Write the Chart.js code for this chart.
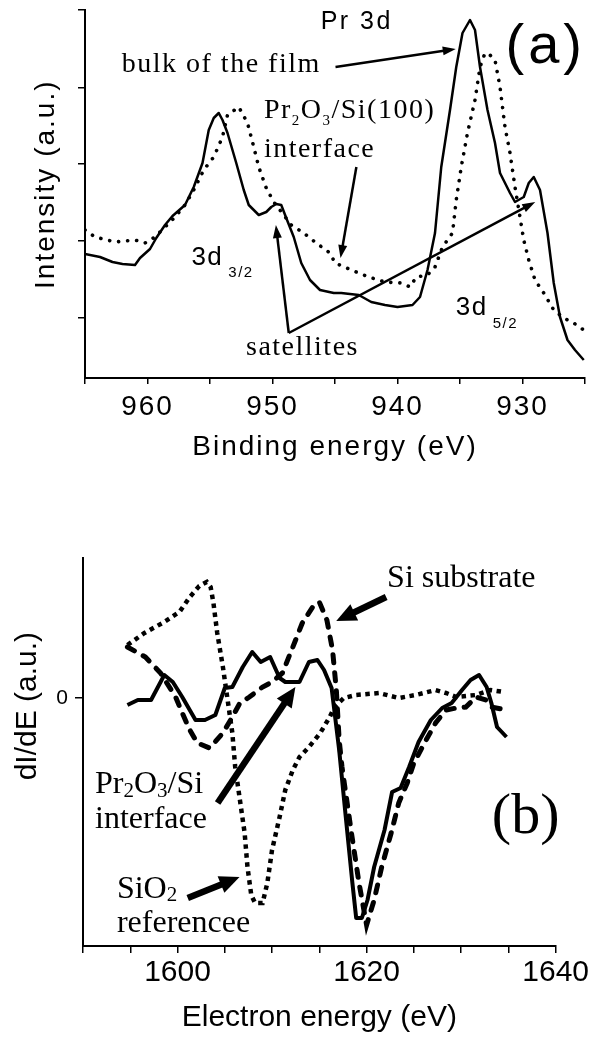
<!DOCTYPE html>
<html>
<head>
<meta charset="utf-8">
<script src="https://cdn.jsdelivr.net/npm/chart.js@4/dist/chart.umd.min.js"></script>
<style>
  html, body { margin: 0; padding: 0; background: #fff; }
  #wrap { position: relative; width: 591px; height: 1037px; overflow: hidden; background: #fff; }
  #ca { position: absolute; left: 0; top: 0; }
  #cb { position: absolute; left: 0; top: 500px; }
</style>
</head>
<body>
<div id="wrap">
  <canvas id="ca" width="591" height="490"></canvas>
  <canvas id="cb" width="591" height="537"></canvas>
</div>
<script>
// ---------------- Panel (a): Pr 3d XPS ----------------
const bulkEnergyA = [965.0, 963.8, 962.8, 962.0, 961.0, 960.6, 959.8, 959.3, 958.6, 958.0, 957.0, 956.3, 955.6, 955.1, 954.7, 954.3, 954.0, 953.6, 952.9, 952.3, 951.9, 951.1, 950.5, 950.1, 949.7, 949.3, 948.9, 948.3, 947.7, 947.0, 946.2, 945.1, 944.5, 943.1, 942.1, 941.0, 940.0, 938.8, 938.2, 937.6, 937.0, 936.5, 935.8, 935.3, 934.8, 934.2, 933.8, 933.4, 932.8, 932.2, 931.8, 931.0, 930.6, 929.9, 929.5, 929.1, 928.6, 928.0, 927.5, 927.0, 926.4, 925.8, 925.1];
const bulkIntensityA = [124, 121, 116, 114, 113, 120, 129, 140, 153, 162, 173, 191, 215, 248, 260, 265, 258, 245, 215, 188, 173, 163, 166, 171, 174, 173, 160, 141, 115, 98, 88, 85, 85, 83, 76, 73, 71, 73, 81, 108, 145, 211, 268, 311, 345, 358, 348, 311, 268, 235, 205, 185, 176, 181, 195, 201, 188, 145, 95, 61, 38, 28, 18];

const ifaceEnergyA = [965.0, 964.2, 962.6, 961.0, 960.2, 959.4, 958.6, 957.8, 957.0, 956.3, 955.5, 954.7, 954.0, 953.6, 952.7, 952.0, 951.5, 951.1, 950.5, 949.9, 949.1, 948.5, 947.5, 946.5, 945.4, 945.0, 943.7, 942.3, 941.0, 939.7, 939.0, 938.5, 937.6, 937.0, 936.4, 935.6, 935.3, 934.9, 934.4, 933.8, 933.4, 933.0, 932.6, 932.2, 931.8, 931.4, 931.0, 930.6, 930.2, 929.9, 929.5, 929.0, 928.3, 927.5, 926.7, 925.9, 925.1];
const ifaceIntensityA = [148, 141, 136, 138, 135, 141, 151, 161, 173, 188, 208, 221, 241, 263, 271, 255, 231, 211, 190, 176, 163, 153, 145, 135, 125, 115, 108, 101, 96, 95, 91, 101, 103, 111, 131, 145, 178, 211, 245, 278, 311, 325, 323, 318, 291, 251, 225, 191, 161, 138, 118, 98, 85, 68, 60, 55, 48];

const xRangeA = [925, 965];
const yRangeA = [0, 368];
const yTickValuesA = [60, 137, 214, 290, 368];

// ---------------- Panel (b): Auger derivative spectra ----------------
const refEnergyB = [1594.7, 1596.5, 1598.6, 1600.2, 1601.3, 1602.3, 1603.1, 1603.5, 1603.8, 1604.2, 1604.8, 1605.3, 1605.8, 1606.1, 1606.6, 1607.1, 1607.4, 1607.8, 1608.2, 1609.0, 1609.5, 1610.0, 1610.8, 1611.4, 1612.2, 1612.9, 1613.9, 1615.1, 1616.1, 1616.6, 1617.6, 1618.9, 1621.3, 1623.4, 1625.2, 1627.3, 1628.4, 1629.5, 1631.6, 1633.1, 1634.5];
const refValueB = [5.3, 6.5, 7.6, 8.6, 10.1, 11.2, 11.6, 11.1, 9.5, 6.5, 3.1, -0.2, -3.5, -6.9, -10.2, -13.5, -16.9, -19.7, -20.5, -20.5, -18.5, -15.2, -11.9, -9.2, -7.2, -5.9, -4.9, -3.5, -1.9, -0.9, 0.0, 0.3, 0.5, 0.0, 0.3, 0.8, 0.5, 0.1, 0.3, 0.8, 0.6];

const subEnergyB = [1594.7, 1596.6, 1598.2, 1599.8, 1600.5, 1601.3, 1602.1, 1603.4, 1604.8, 1605.8, 1606.6, 1607.6, 1609.0, 1610.0, 1611.1, 1612.2, 1613.2, 1614.3, 1615.0, 1615.8, 1616.4, 1616.8, 1617.1, 1617.4, 1618.4, 1619.2, 1620.0, 1620.8, 1621.6, 1622.6, 1623.4, 1624.3, 1625.0, 1626.3, 1627.3, 1628.4, 1629.5, 1630.5, 1631.6, 1632.6, 1633.2, 1634.8];
const subValueB = [5.1, 4.1, 2.5, 0.1, -1.5, -3.2, -4.5, -5.0, -3.5, -1.9, -0.5, 0.1, 1.1, 1.6, 2.5, 5.1, 7.5, 9.1, 9.6, 7.8, 4.8, 0.8, -4.2, -6.9, -13.5, -18.5, -22.7, -20.2, -16.9, -13.5, -10.5, -8.5, -6.5, -4.2, -2.5, -1.2, -1.0, -0.9, 0.1, -0.2, -0.9, -1.2];

const ifaceEnergyB = [1594.7, 1595.8, 1597.2, 1598.6, 1599.5, 1600.5, 1601.9, 1602.9, 1604.0, 1605.0, 1605.8, 1606.9, 1607.9, 1608.8, 1609.8, 1610.8, 1611.4, 1612.9, 1613.9, 1614.8, 1615.5, 1616.3, 1617.1, 1617.8, 1618.5, 1618.9, 1619.5, 1620.1, 1620.8, 1621.9, 1622.7, 1623.6, 1624.5, 1625.5, 1626.8, 1628.0, 1629.0, 1630.1, 1631.0, 1631.9, 1632.7, 1633.2, 1633.8, 1634.3, 1634.8];
const ifaceValueB = [-0.7, -0.2, -0.2, 2.3, 1.6, 0.1, -2.2, -2.2, -1.7, 1.0, 1.1, 3.1, 4.6, 3.6, 4.1, 2.0, 1.6, 1.6, 3.6, 3.8, 2.8, 1.0, -5.2, -11.9, -18.5, -22.0, -22.0, -20.2, -16.9, -13.2, -9.4, -9.0, -6.9, -4.4, -2.2, -1.0, -0.5, 0.8, 1.8, 2.3, 1.1, -0.5, -2.9, -3.4, -3.9];

const xRangeB = [1590, 1640];
const yRangeB = [-24.8, 14.0];
const yTickValuesB = [0];

// ---------------- Fonts & helpers ----------------
const SANS = '"Liberation Sans", Arial, Helvetica, sans-serif';
const SERIF = '"Liberation Serif", "Times New Roman", Times, serif';

function pairs(xs, ys) { return xs.map((x, i) => ({ x: x, y: ys[i] })); }

function drawArrow(ctx, x1, y1, x2, y2, st) {
  const ang = Math.atan2(y2 - y1, x2 - x1);
  const c = Math.cos(ang), s = Math.sin(ang);
  const bx = x2 - st.head * c, by = y2 - st.head * s;
  ctx.save();
  ctx.strokeStyle = '#000';
  ctx.fillStyle = '#000';
  ctx.lineWidth = st.width;
  ctx.lineCap = 'butt';
  ctx.beginPath();
  ctx.moveTo(x1, y1);
  ctx.lineTo(bx + c, by + s);
  ctx.stroke();
  ctx.beginPath();
  ctx.moveTo(x2, y2);
  ctx.lineTo(bx + (st.headW / 2) * s, by - (st.headW / 2) * c);
  ctx.lineTo(bx - (st.headW / 2) * s, by + (st.headW / 2) * c);
  ctx.closePath();
  ctx.fill();
  ctx.restore();
}

function drawRich(ctx, n, px, py) {
  let cx = px;
  for (const seg of n.segs) {
    const t = seg[0], sc = seg[1] || 1, dy = seg[2] || 0, dx = seg[3] || 0;
    ctx.font = Math.round(n.size * sc) + 'px ' + n.family;
    ctx.letterSpacing = (n.spacing || 0) + 'px';
    cx += dx;
    ctx.fillText(t, cx, py + dy);
    cx += ctx.measureText(t).width;
  }
}

function notesPlugin(notes, arrows, arrowStyle, spacing) {
  return {
    id: 'notes',
    beforeLayout(chart) { chart.ctx.letterSpacing = spacing + 'px'; },
    beforeDraw(chart) { chart.ctx.letterSpacing = spacing + 'px'; },
    afterDraw(chart) {
      const ctx = chart.ctx, xs = chart.scales.x, ys = chart.scales.y;
      ctx.save();
      ctx.fillStyle = '#000';
      ctx.textAlign = 'left';
      ctx.textBaseline = 'alphabetic';
      for (const a of arrows) {
        drawArrow(ctx, xs.getPixelForValue(a.x1), ys.getPixelForValue(a.y1),
                       xs.getPixelForValue(a.x2), ys.getPixelForValue(a.y2), arrowStyle);
      }
      for (const n of notes) drawRich(ctx, n, xs.getPixelForValue(n.x), ys.getPixelForValue(n.y));
      ctx.restore();
      ctx.letterSpacing = '0px';
    }
  };
}

// ---------------- Annotations (data coordinates) ----------------
const notesA = [
  { x: 946.15, y: 349, family: SANS, size: 25, spacing: 2.5, segs: [['Pr 3d']] },
  { x: 931.36, y: 315, family: SANS, size: 56, spacing: 4, segs: [['(a)']] },
  { x: 962.06, y: 306, family: SERIF, size: 28, spacing: 1.5, segs: [['bulk of the film']] },
  { x: 950.69, y: 260, family: SERIF, size: 28, spacing: 1.5, segs: [['Pr'], ['2', 0.52, 7], ['O'], ['3', 0.52, 7], ['/Si(100)']] },
  { x: 950.69, y: 221, family: SERIF, size: 28, spacing: 1.5, segs: [['interface']] },
  { x: 956.49, y: 113, family: SANS, size: 26, spacing: 1.5, segs: [['3d'], ['3/2', 0.58, 12, 5]] },
  { x: 935.34, y: 63, family: SANS, size: 26, spacing: 1.5, segs: [['3d'], ['5/2', 0.58, 13, 5]] },
  { x: 952.12, y: 23, family: SERIF, size: 28, spacing: 1.5, segs: [['satellites']] }
];
const arrowsA = [
  { x1: 944.96, y1: 311, x2: 935.34, y2: 329 },
  { x1: 943.29, y1: 211, x2: 944.56, y2: 120 },
  { x1: 948.70, y1: 45, x2: 949.73, y2: 153 },
  { x1: 948.70, y1: 45, x2: 928.98, y2: 176 }
];
const notesB = [
  { x: 1622.17, y: 11.1, family: SERIF, size: 32, spacing: 0, segs: [['Si substrate']] },
  { x: 1591.27, y: -9.5, family: SERIF, size: 32, spacing: 0, segs: [['Pr'], ['2', 0.66, 4], ['O'], ['3', 0.66, 4], ['/Si']] },
  { x: 1591.27, y: -13.0, family: SERIF, size: 32, spacing: 0, segs: [['interface']] },
  { x: 1593.59, y: -20.0, family: SERIF, size: 32, spacing: 0, segs: [['SiO'], ['2', 0.66, 3]] },
  { x: 1593.59, y: -23.4, family: SERIF, size: 32, spacing: 0, segs: [['referencee']] },
  { x: 1633.25, y: -13.5, family: SERIF, size: 58, spacing: 0, segs: [['(b)']] }
];
const arrowsB = [
  { x1: 1622.07, y1: 10.1, x2: 1616.79, y2: 7.7 },
  { x1: 1604.24, y1: -10.5, x2: 1612.47, y2: 1.1 },
  { x1: 1601.08, y1: -20.0, x2: 1606.56, y2: -17.9 }
];

// ---------------- Chart (a) ----------------
new Chart(document.getElementById('ca'), {
  type: 'line',
  data: {
    datasets: [
      { label: 'bulk of the film', data: pairs(bulkEnergyA, bulkIntensityA),
        borderColor: '#000', borderWidth: 2.5, pointRadius: 0, tension: 0, fill: false,
        borderJoinStyle: 'round' },
      { label: 'Pr2O3/Si(100) interface', data: pairs(ifaceEnergyA, ifaceIntensityA),
        borderColor: '#000', borderWidth: 3.6, pointRadius: 0, tension: 0, fill: false,
        borderDash: [0.1, 9], borderCapStyle: 'round' }
    ]
  },
  options: {
    responsive: false,
    animation: false,
    events: [],
    layout: { padding: { top: 10, right: 3, left: 0, bottom: 0 } },
    plugins: { legend: { display: false }, tooltip: { enabled: false } },
    scales: {
      x: {
        type: 'linear', reverse: true, min: xRangeA[0], max: xRangeA[1],
        ticks: { stepSize: 5, autoSkip: false, maxRotation: 0, padding: 6, color: '#000',
                 font: { family: SANS, size: 28 },
                 callback: v => (v % 10 === 0 ? String(v) : '') },
        grid: { drawOnChartArea: false, tickLength: 6, color: '#000', lineWidth: 1.5 },
        border: { display: true, color: '#000', width: 2 },
        title: { display: true, text: 'Binding energy (eV)', color: '#000',
                 font: { family: SANS, size: 28 }, padding: { top: 0, bottom: 26 } },
        afterFit: s => { s.height = 112; }
      },
      y: {
        type: 'linear', min: yRangeA[0], max: yRangeA[1],
        ticks: { display: false },
        afterBuildTicks: s => { s.ticks = yTickValuesA.map(v => ({ value: v })); },
        grid: { drawOnChartArea: false, tickLength: 7, color: '#000', lineWidth: 1.5 },
        border: { display: true, color: '#000', width: 2 },
        title: { display: true, text: '  Intensity (a.u.)', color: '#000',
                 font: { family: SANS, size: 28 }, padding: { top: 29, bottom: 0 } },
        afterFit: s => { s.width = 85; }
      }
    }
  },
  plugins: [notesPlugin(notesA, arrowsA, { width: 2.5, head: 13, headW: 9 }, 2)]
});

// ---------------- Chart (b) ----------------
new Chart(document.getElementById('cb'), {
  type: 'line',
  data: {
    datasets: [
      { label: 'SiO2 reference', data: pairs(refEnergyB, refValueB),
        borderColor: '#000', borderWidth: 4.5, pointRadius: 0, tension: 0, fill: false,
        borderDash: [4.5, 4.5], borderCapStyle: 'butt' },
      { label: 'Si substrate', data: pairs(subEnergyB, subValueB),
        borderColor: '#000', borderWidth: 5, pointRadius: 0, tension: 0, fill: false,
        borderDash: [8, 10], borderCapStyle: 'round' },
      { label: 'Pr2O3/Si interface', data: pairs(ifaceEnergyB, ifaceValueB),
        borderColor: '#000', borderWidth: 4, pointRadius: 0, tension: 0, fill: false,
        borderJoinStyle: 'round' }
    ]
  },
  options: {
    responsive: false,
    animation: false,
    events: [],
    layout: { padding: { top: 58, right: 34, left: 0, bottom: 0 } },
    plugins: { legend: { display: false }, tooltip: { enabled: false } },
    scales: {
      x: {
        type: 'linear', min: xRangeB[0], max: xRangeB[1],
        ticks: { stepSize: 5, autoSkip: false, maxRotation: 0, padding: 2, color: '#000',
                 font: { family: SANS, size: 30 },
                 callback: v => (v % 20 === 0 ? String(v) : '') },
        grid: { drawOnChartArea: false, tickLength: 7, color: '#000', lineWidth: 1.5 },
        border: { display: true, color: '#000', width: 2 },
        title: { display: true, text: 'Electron energy (eV)', color: '#000',
                 font: { family: SANS, size: 30 }, padding: { top: 0, bottom: 1 } },
        afterFit: s => { s.height = 91; }
      },
      y: {
        type: 'linear', min: yRangeB[0], max: yRangeB[1],
        afterBuildTicks: s => { s.ticks = yTickValuesB.map(v => ({ value: v })); },
        ticks: { padding: 7, color: '#000', font: { family: SANS, size: 21 } },
        grid: { drawOnChartArea: false, tickLength: 8, color: '#000', lineWidth: 1.5 },
        border: { display: true, color: '#000', width: 2 },
        title: { display: true, text: '           dI/dE (a.u.)', color: '#000',
                 font: { family: SANS, size: 30 }, padding: { top: 10, bottom: 0 } },
        afterFit: s => { s.width = 83; }
      }
    }
  },
  plugins: [notesPlugin(notesB, arrowsB, { width: 6.5, head: 20, headW: 18 }, 0)]
});
</script>
</body>
</html>
